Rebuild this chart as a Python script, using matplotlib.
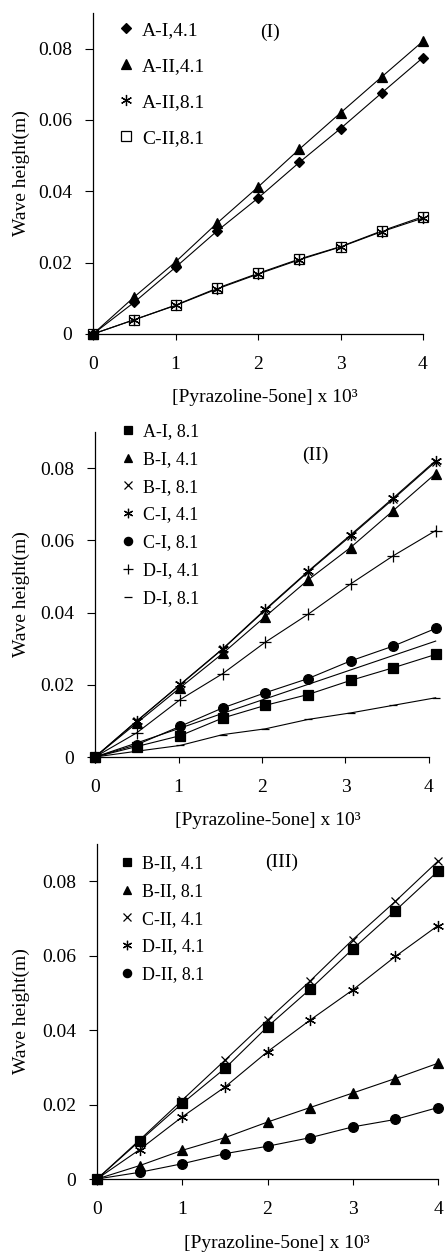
import numpy as np
import matplotlib
matplotlib.use("Agg")
import matplotlib.pyplot as plt
from matplotlib.lines import Line2D

plt.rcParams.update({
    'font.family': ['Liberation Serif', 'DejaVu Serif'],
    'font.size': 13.5,
    'axes.linewidth': 0.9,
})

W, H = 445, 1253

# ---- data ----
x_I = [0, 0.5, 1.0, 1.5, 2.0, 2.5, 3.0, 3.5, 4.0]
AI_41 = [0, 0.0089, 0.0187, 0.0288, 0.0381, 0.0481, 0.0576, 0.0676, 0.0775]
AII_41 = [0, 0.0104, 0.0202, 0.0310, 0.0412, 0.0518, 0.0620, 0.0721, 0.0821]
AII_81 = [0, 0.0040, 0.0080, 0.0126, 0.0168, 0.0208, 0.0244, 0.0287, 0.0325]
CII_81 = [0, 0.0040, 0.0081, 0.0128, 0.0170, 0.0210, 0.0245, 0.0289, 0.0329]

x_II = [0, 0.5, 1.02, 1.53, 2.04, 2.55, 3.06, 3.57, 4.08]
AI_81 = [0, 0.0029, 0.0059, 0.0108, 0.0143, 0.0173, 0.0212, 0.0247, 0.0284]
BI_41 = [0, 0.0094, 0.0192, 0.0287, 0.0389, 0.0490, 0.0580, 0.0682, 0.0785]
BI_81 = [0, 0.0100, 0.0200, 0.0299, 0.0407, 0.0512, 0.0612, 0.0714, 0.0818]
CI_41 = [0, 0.0099, 0.0201, 0.0300, 0.0409, 0.0514, 0.0615, 0.0717, 0.0821]
CI_81 = [0, 0.0034, 0.0085, 0.0136, 0.0178, 0.0217, 0.0266, 0.0307, 0.0356]
DI_41 = [0, 0.0067, 0.0159, 0.0231, 0.0318, 0.0395, 0.0479, 0.0557, 0.0627]
DI_81 = [0, 0.0016, 0.0032, 0.0062, 0.0078, 0.0104, 0.0122, 0.0143, 0.0164]
extra_II = [0, 0.0039, 0.0080, 0.0121, 0.0161, 0.0201, 0.0241, 0.0281, 0.0321]

x_III = [0, 0.5, 1.0, 1.5, 2.0, 2.5, 3.0, 3.5, 4.0]
BII_41 = [0, 0.0102, 0.0203, 0.0297, 0.0409, 0.0510, 0.0618, 0.0721, 0.0827]
BII_81 = [0, 0.0036, 0.0077, 0.0111, 0.0153, 0.0192, 0.0231, 0.0270, 0.0311]
CII_41 = [0, 0.0105, 0.0212, 0.0319, 0.0427, 0.0532, 0.0643, 0.0746, 0.0854]
DII_41 = [0, 0.0079, 0.0167, 0.0247, 0.0342, 0.0427, 0.0508, 0.0598, 0.0681]
DII_81 = [0, 0.0018, 0.0041, 0.0068, 0.0088, 0.0111, 0.0140, 0.0160, 0.0192]

x_ticks = [0, 1, 2, 3, 4]
y_ticks = [0, 0.02, 0.04, 0.06, 0.08]
y_ticklabels = ['0', '0.02', '0.04', '0.06', '0.08']

# marker styles (ms = size on the plot)
STY = {
    'diamond': dict(marker='D', ms=5.5, mfc='black', z=3),
    'tri': dict(marker='^', ms=7, mfc='black', z=3),
    'ast': dict(marker=(6, 2, 0), ms=8, mfc='none', z=4),
    'osq': dict(marker='s', ms=6.5, mfc='white', z=2),
    'sq': dict(marker='s', ms=7, mfc='black', z=3),
    'x': dict(marker='x', ms=6, mfc='none', z=3),
    'circ': dict(marker='o', ms=7, mfc='black', z=3),
    'plus': dict(marker='+', ms=8, mfc='none', z=3),
    'dash': dict(marker='_', ms=6, mfc='none', z=3),
}

panels = [
    dict(px=(93, 423, 13, 334), x=x_I, tag='(I)', tag_px=(270, 32),
         series=[('A-I,4.1', AI_41, 'diamond'), ('A-II,4.1', AII_41, 'tri'),
                 ('A-II,8.1', AII_81, 'ast'), ('C-II,8.1', CII_81, 'osq')],
         extra=None, leg_px=(116, 21), leg_fs=14, leg_sp=0.95, leg_ms=1.0,
         xlab_px=(265, 389)),
    dict(px=(95, 429, 432, 757), x=x_II, tag='(II)', tag_px=(315, 455),
         series=[('A-I, 8.1', AI_81, 'sq'), ('B-I, 4.1', BI_41, 'tri'),
                 ('B-I, 8.1', BI_81, 'x'), ('C-I, 4.1', CI_41, 'ast'),
                 ('C-I, 8.1', CI_81, 'circ'), ('D-I, 4.1', DI_41, 'plus'),
                 ('D-I, 8.1', DI_81, 'dash')],
         extra=extra_II, leg_px=(119, 423), leg_fs=13, leg_sp=0.6, leg_ms=0.85,
         xlab_px=(268, 812)),
    dict(px=(97, 438, 844, 1179), x=x_III, tag='(III)', tag_px=(282, 862),
         series=[('B-II, 4.1', BII_41, 'sq'), ('B-II, 8.1', BII_81, 'tri'),
                 ('C-II, 4.1', CII_41, 'x'), ('D-II, 4.1', DII_41, 'ast'),
                 ('D-II, 8.1', DII_81, 'circ')],
         extra=None, leg_px=(118, 855), leg_fs=13, leg_sp=0.6, leg_ms=0.85,
         xlab_px=(277, 1235)),
]

fig = plt.figure(figsize=(W / 100, H / 100), dpi=100)

for p in panels:
    l, r, t, b = p['px']
    ax = fig.add_axes([l / W, 1 - b / H, (r - l) / W, (b - t) / H])
    ax.set_xlim(0, 4)
    ax.set_ylim(0, 0.09)
    for side in ('top', 'right'):
        ax.spines[side].set_visible(False)

    handles = []
    for label, y, key in p['series']:
        st = STY[key]
        ax.plot(p['x'], y, color='black', lw=0.8, marker=st['marker'], ms=st['ms'],
                mfc=st['mfc'], mec='black', mew=0.9, clip_on=False, zorder=st['z'])
        handles.append(Line2D([], [], ls='none', color='black', marker=st['marker'],
                              ms=st['ms'] * p['leg_ms'], mfc=st['mfc'], mec='black',
                              mew=0.9, label=label))
    if p['extra'] is not None:
        ax.plot(p['x'], p['extra'], color='black', lw=0.8, clip_on=False)

    ax.set_xticks(x_ticks)
    ax.set_yticks(y_ticks)
    ax.set_yticklabels(y_ticklabels)
    ax.tick_params(axis='x', direction='out', length=4, width=0.8, pad=12, labelsize=14)
    ax.tick_params(axis='y', direction='out', length=6, width=0.8, pad=9, labelsize=14)

    ax.set_ylabel('Wave height(m)', fontsize=14)
    ax.yaxis.set_label_coords((30 - l) / (r - l), 0.5)
    ax.set_xlabel('[Pyrazoline-5one] x 10³', fontsize=14)
    xl, yl = p['xlab_px']
    ax.xaxis.set_label_coords((xl - l) / (r - l), (b - yl) / (b - t))

    tx, ty = p['tag_px']
    ax.text((tx - l) / (r - l), (b - ty) / (b - t), p['tag'], transform=ax.transAxes,
            ha='center', va='center', fontsize=14)

    lx, ly = p['leg_px']
    ax.legend(handles=handles, loc='upper left',
              bbox_to_anchor=((lx - l) / (r - l), (b - ly) / (b - t)),
              frameon=False, borderaxespad=0, borderpad=0, handlelength=1.0,
              handletextpad=0.35, labelspacing=p['leg_sp'], fontsize=p['leg_fs'])

fig.savefig('out.png', dpi=100)
